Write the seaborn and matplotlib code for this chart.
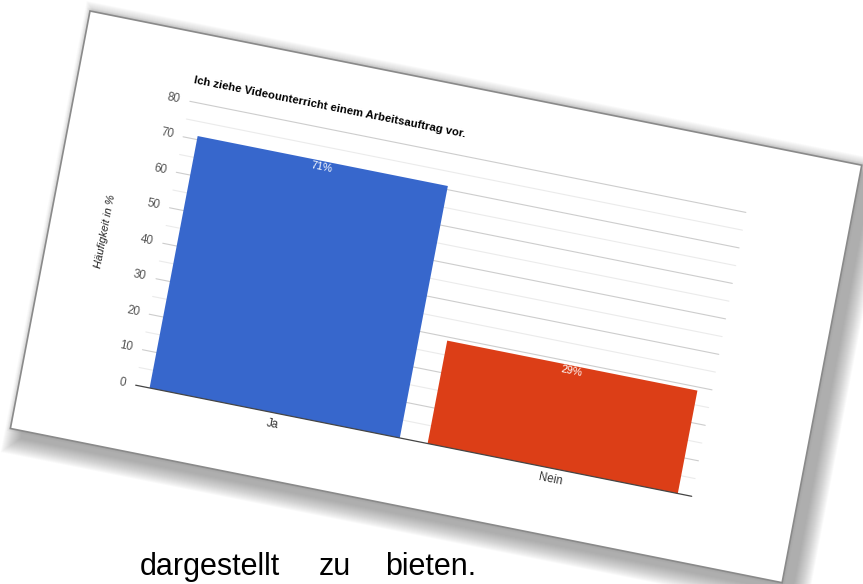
import numpy as np
import matplotlib
matplotlib.use("Agg")
import matplotlib.pyplot as plt
import seaborn as sns
from matplotlib.transforms import Affine2D
from matplotlib.patches import Rectangle

# ---------------------------
# data
# ---------------------------
categories = ["Ja", "Nein"]
values = [71, 29]
bar_labels = ["71%", "29%"]
bar_colors = ["#3767cc", "#dc3e17"]
y_ticks = [0, 10, 20, 30, 40, 50, 60, 70, 80]
y_minor = [5, 15, 25, 35, 45, 55, 65, 75]
title = "Ich ziehe Videounterricht einem Arbeitsauftrag vor."
y_label = "Häufigkeit in %"
footer_words = ["dargestellt", "zu", "bieten."]

sns.set_theme(style="white")
plt.rcParams["font.family"] = ["Liberation Sans", "DejaVu Sans"]

fig = plt.figure(figsize=(8.63, 5.84), dpi=100)
ax = fig.add_axes([0, 0, 1, 1])

# tilted "sheet" coordinate system (pixels of the screenshot)
ANG_X = 11.3   # tilt of horizontal lines
ANG_Y = 10.8   # tilt of vertical lines
ax_r, ay_r = np.radians(ANG_X), np.radians(ANG_Y)
card_w, card_h = 787, 425
card_aff = Affine2D(np.array([[np.cos(ax_r), -np.sin(ay_r), 90],
                              [np.sin(ax_r), np.cos(ay_r), 11],
                              [0, 0, 1]]))
card_tr = card_aff + ax.transData

# plot area inside the sheet
plot_left, plot_right = 115, 682
base_v, top_v = 358, 69
unit = (base_v - top_v) / 80
cat_w = (plot_right - plot_left) / len(categories)
data_aff = Affine2D().scale(cat_w, -unit).translate(plot_left + 0.5 * cat_w, base_v) + card_aff
data_tr = data_aff + ax.transData


def yv(val):
    return base_v - val * unit


# bars via seaborn, then moved onto the tilted sheet
n_before = len(ax.patches)
sns.barplot(x=categories, y=values, hue=categories, palette=bar_colors,
            width=0.9, saturation=1, legend=False, ax=ax)
for p in ax.patches[n_before:]:
    p.set_transform(data_tr)
    p.set_zorder(4)
    p.set_edgecolor("none")

# shadow + sheet
for k in range(18):
    ax.add_patch(Rectangle((12 - k, 8 - k), card_w + 2 * k, card_h + 2 * k,
                           transform=card_tr, facecolor="#555555", alpha=0.032,
                           edgecolor="none", zorder=1))
for k in range(3):
    ax.add_patch(Rectangle((-1 - k, -1 - k), card_w + 2 + 2 * k, card_h + 2 + 2 * k,
                           transform=card_tr, facecolor="#777777", alpha=0.05,
                           edgecolor="none", zorder=1))
ax.add_patch(Rectangle((0, 0), card_w, card_h, transform=card_tr,
                       facecolor="white", edgecolor="#8a8a8a", lw=1.2, zorder=2))

# grid lines
x_lo, x_hi = -0.5, len(categories) - 0.5
for t in y_minor:
    ax.plot([x_lo, x_hi], [t, t], color="#ebebeb", lw=0.8, transform=data_tr, zorder=3)
for t in y_ticks[1:]:
    ax.plot([x_lo, x_hi], [t, t], color="#cdcdcd", lw=0.8, transform=data_tr, zorder=3)
ax.plot([x_lo, x_hi], [0, 0], color="#444444", lw=0.9, transform=data_tr, zorder=5)

rot = -ANG_X
tk = dict(rotation=rot, rotation_mode="anchor", transform=card_tr, zorder=6)

for t in y_ticks:
    ax.text(105, yv(t), str(t), ha="right", va="center", fontsize=8.4,
            color="#555555", **tk)

for i, cat in enumerate(categories):
    u = plot_left + (i + 0.5) * cat_w
    ax.text(u, base_v + 11, cat, ha="center", va="center", fontsize=8.4,
            color="#333333", **tk)
    ax.text(u, yv(values[i]) + 6, bar_labels[i], ha="center", va="center",
            fontsize=7.8, color="white", **tk)

ax.text(plot_left, 47, title, ha="left", va="center", fontsize=8.2,
        fontweight="bold", color="black", **tk)
ax.text(56, (base_v + top_v) / 2, y_label, ha="center", va="center",
        fontsize=8, style="italic", color="#222222",
        rotation=90 - ANG_Y, rotation_mode="anchor", transform=card_tr, zorder=6)

# plain text under the picture
for word, x0 in zip(footer_words, [140, 319, 385]):
    ax.text(x0, 575, word, ha="left", va="baseline", fontsize=22, color="black")

ax.set_xlim(0, 863)
ax.set_ylim(584, 0)
ax.axis("off")

fig.savefig("out.png", dpi=100, facecolor="white")
